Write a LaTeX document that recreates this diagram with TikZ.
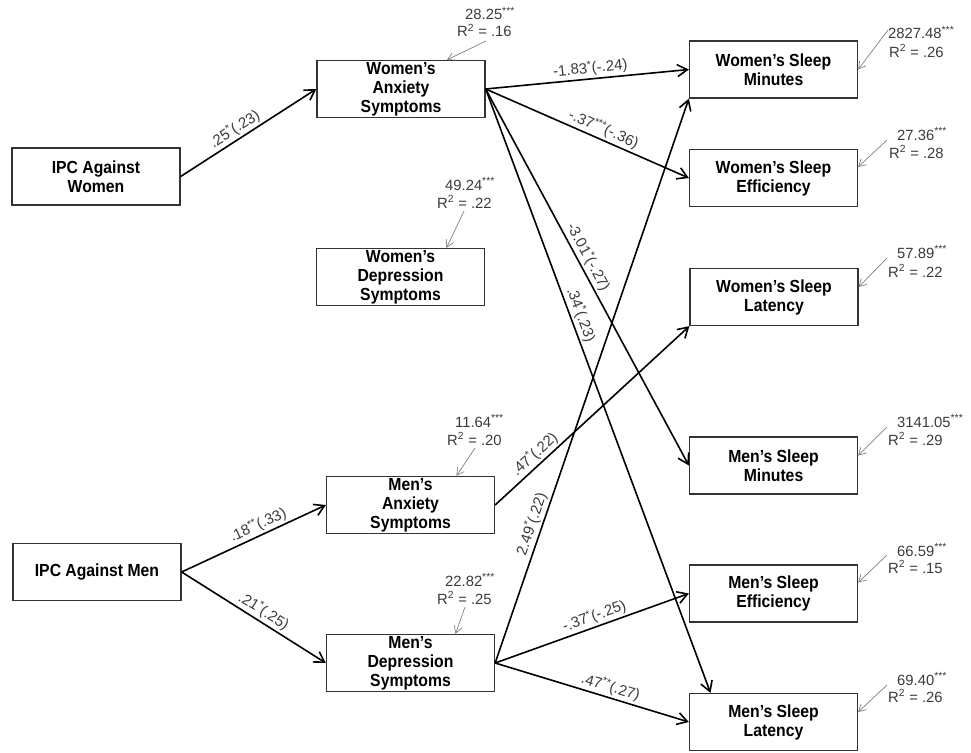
\documentclass[tikz,border=0pt]{standalone}
\usepackage{fontspec}
\setmainfont{Liberation Sans}
\newfontfamily\boxfont[FakeStretch=0.9]{Liberation Sans}
\usetikzlibrary{arrows.meta}
\definecolor{boxgray}{HTML}{333333}
\definecolor{labgray}{HTML}{3A3A3A}
\definecolor{resgray}{HTML}{808080}
\begin{document}
\begin{tikzpicture}[x=1pt,y=-1pt,
  box/.style={draw=boxgray, line width=1.3pt, minimum width=168pt, minimum height=57pt,
    inner sep=0pt, align=center, font=\boxfont\fontsize{17.5}{19}\selectfont\bfseries},
  pathline/.style={line width=1.6pt, -{Straight Barb[length=10pt,width=12pt]}},
  coef/.style={font=\fontsize{15}{17}\selectfont, text=labgray, sloped, above, inner sep=2pt},
  resid/.style={draw=resgray, line width=0.7pt, -{Straight Barb[length=7pt,width=8pt]}},
  rlab/.style={font=\fontsize{14.8}{17}\selectfont, text=labgray, inner sep=0pt, anchor=base west},
]
\useasboundingbox (0,0) rectangle (971,752);

% boxes
\node[box] (IPCW) at (96,176.5) {IPC Against\\Women};
\node[box] (IPCM) at (97,572) {IPC Against Men};
\node[box] (WAnx) at (401,89) {Women’s\\Anxiety\\Symptoms};
\node[box] (WDep) at (400.5,277) {Women’s\\Depression\\Symptoms};
\node[box] (MAnx) at (410.5,505) {Men’s\\Anxiety\\Symptoms};
\node[box] (MDep) at (410.5,663) {Men’s\\Depression\\Symptoms};
\node[box] (WSM) at (773.5,69.5) {Women’s Sleep\\Minutes};
\node[box] (WSE) at (773.5,178) {Women’s Sleep\\Efficiency};
\node[box] (WSL) at (774,297) {Women’s Sleep\\Latency};
\node[box] (MSM) at (773.5,465.5) {Men’s Sleep\\Minutes};
\node[box] (MSE) at (773.5,593.5) {Men’s Sleep\\Efficiency};
\node[box] (MSL) at (773.5,722) {Men’s Sleep\\Latency};

% structural paths
\draw[pathline] (IPCW.east) -- node[coef,pos=0.44] {.25\textsuperscript{*}(.23)} (WAnx.west);
\draw[pathline] (WAnx.east) -- node[coef,pos=0.52] {-1.83\textsuperscript{*}(-.24)} (WSM.west);
\draw[pathline] (WAnx.east) -- node[coef,pos=0.56] {-.37\textsuperscript{***}(-.36)} (WSE.west);
\draw[pathline] (WAnx.east) -- node[coef,pos=0.46] {-3.01\textsuperscript{*}(-.27)} (MSM.west);
\draw[pathline] (WAnx.east) -- node[coef,pos=0.38] {.34\textsuperscript{*}(.23)} ([xshift=-63pt]MSL.north);
\draw[pathline] (MAnx.east) -- node[coef,pos=0.24] {.47\textsuperscript{*}(.22)} (WSL.south west);
\draw[pathline] (MDep.east) -- node[coef,pos=0.24] {2.49\textsuperscript{*}(.22)} (WSM.south west);
\draw[pathline] (MDep.east) -- node[coef,pos=0.53] {-.37\textsuperscript{*}(-.25)} (MSE.west);
\draw[pathline] (MDep.east) -- node[coef,pos=0.58] {.47\textsuperscript{**}(.27)} (MSL.west);
\draw[pathline] (IPCM.east) -- node[coef,pos=0.56] {.18\textsuperscript{**}(.33)} (MAnx.west);
\draw[pathline] (IPCM.east) -- node[coef,pos=0.53] {.21\textsuperscript{*}(.25)} (MDep.west);

% residual labels
\node[rlab] (lWAnxa) at (465,20) {28.25\textsuperscript{***}};
\node[rlab] (lWAnxb) at (457,37) {R\textsuperscript{2} = .16};
\node[rlab] (lWDepa) at (445,190) {49.24\textsuperscript{***}};
\node[rlab] (lWDepb) at (437,208) {R\textsuperscript{2} = .22};
\node[rlab] (lMAnxa) at (455,427) {11.64\textsuperscript{***}};
\node[rlab] (lMAnxb) at (447,445) {R\textsuperscript{2} = .20};
\node[rlab] (lMDepa) at (445,586) {22.82\textsuperscript{***}};
\node[rlab] (lMDepb) at (437,604) {R\textsuperscript{2} = .25};
\node[rlab] (lWSMa) at (888,39) {2827.48\textsuperscript{***}};
\node[rlab] (lWSMb) at (889,57) {R\textsuperscript{2} = .26};
\node[rlab] (lWSEa) at (897,140) {27.36\textsuperscript{***}};
\node[rlab] (lWSEb) at (889,158) {R\textsuperscript{2} = .28};
\node[rlab] (lWSLa) at (897,258) {57.89\textsuperscript{***}};
\node[rlab] (lWSLb) at (888,277) {R\textsuperscript{2} = .22};
\node[rlab] (lMSMa) at (897,427) {3141.05\textsuperscript{***}};
\node[rlab] (lMSMb) at (888,445) {R\textsuperscript{2} = .29};
\node[rlab] (lMSEa) at (897,556) {66.59\textsuperscript{***}};
\node[rlab] (lMSEb) at (888,573) {R\textsuperscript{2} = .15};
\node[rlab] (lMSLa) at (897,685) {69.40\textsuperscript{***}};
\node[rlab] (lMSLb) at (888,702) {R\textsuperscript{2} = .26};

% residual arrows
\coordinate (rWAnx) at (486,41);
\coordinate (rWDep) at (464,211);
\coordinate (rMAnx) at (475,448);
\coordinate (rMDep) at (465,607);
\coordinate (rWSM) at (888,30);
\coordinate (rWSE) at (887,140);
\coordinate (rWSL) at (887,258);
\coordinate (rMSM) at (887,427);
\coordinate (rMSE) at (887,555);
\coordinate (rMSL) at (887,685);
\draw[resid] (rWAnx) -- ([xshift=46pt]WAnx.north);
\draw[resid] (rWDep) -- ([xshift=46pt]WDep.north);
\draw[resid] (rMAnx) -- ([xshift=46pt]MAnx.north);
\draw[resid] (rMDep) -- ([xshift=45pt]MDep.north);
\draw[resid] (rWSM) -- (WSM.east);
\draw[resid] (rWSE) -- ([yshift=11pt]WSE.east);
\draw[resid] (rWSL) -- ([yshift=10pt]WSL.east);
\draw[resid] (rMSM) -- ([yshift=10pt]MSM.east);
\draw[resid] (rMSE) -- ([yshift=11pt]MSE.east);
\draw[resid] (rMSL) -- ([yshift=10pt]MSL.east);
\end{tikzpicture}
\end{document}
